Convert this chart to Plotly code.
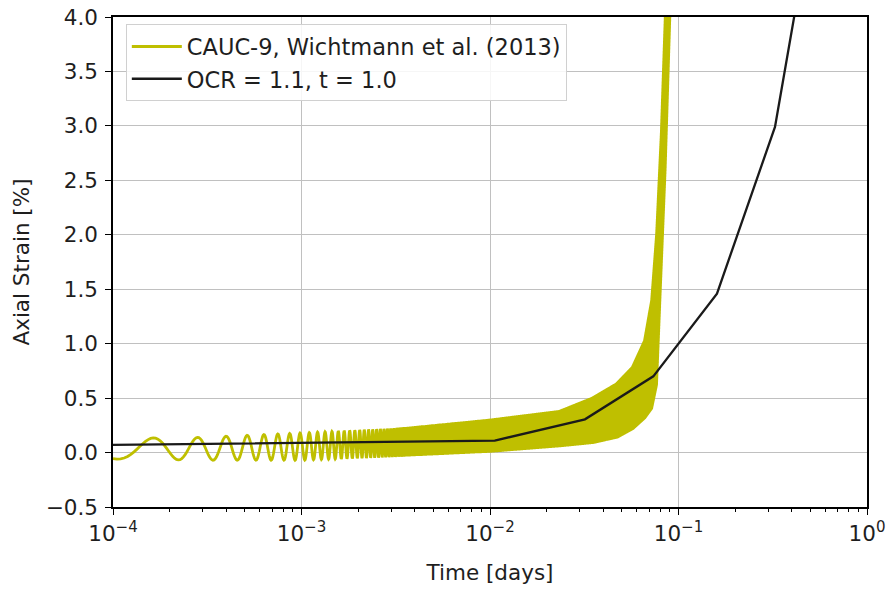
import numpy as np
import plotly.graph_objects as go

# ---- Data ----
# Cyclic test (yellow): envelope (time in days, strain in %)
cyc_env_time = [1.0e-4, 3.0e-4, 1.0e-3, 3.0e-3, 1.0e-2, 2.35e-2, 3.5e-2, 4.7e-2,
                5.7e-2, 6.6e-2, 7.2e-2, 7.65e-2, 8.1e-2, 8.5e-2, 9.0e-2]
cyc_env_upper = [0.13, 0.14, 0.18, 0.22, 0.31, 0.39, 0.51, 0.64,
                 0.79, 1.03, 1.40, 2.01, 2.93, 4.00, 5.30]
cyc_env_lower = [-0.06, -0.07, -0.07, -0.04, 0.00, 0.05, 0.08, 0.13,
                 0.21, 0.31, 0.40, 0.62, 1.70, 2.60, 4.00]
cyc_period_days = 1.17e-4     # cycle period read from peak spacing
cyc_first_peak = 1.64e-4      # time of first visible peak

# Model (black)
model_time = [1.0e-4, 1.06e-2, 3.19e-2, 7.35e-2, 0.160, 0.325, 0.50]
model_strain = [0.07, 0.11, 0.305, 0.70, 1.46, 2.99, 4.85]

x_ticks = [1e-4, 1e-3, 1e-2, 1e-1, 1e0]
x_ticklabels = ["10<sup>\u22124</sup>", "10<sup>\u22123</sup>", "10<sup>\u22122</sup>",
                "10<sup>\u22121</sup>", "10<sup>0</sup>"]
y_ticks = [-0.5, 0.0, 0.5, 1.0, 1.5, 2.0, 2.5, 3.0, 3.5, 4.0]

# ---- Build cyclic signal between the read envelopes ----
t = np.arange(cyc_env_time[0], cyc_env_time[-1], cyc_period_days / 24.0)
lt = np.log10(t)
lenv = np.log10(cyc_env_time)
up = np.interp(lt, lenv, cyc_env_upper)
lo = np.interp(lt, lenv, cyc_env_lower)
mean = (up + lo) / 2
amp = (up - lo) / 2
y_cyc = mean + amp * np.cos(2 * np.pi * (t - cyc_first_peak) / cyc_period_days)

minor_vals = [d * m for d in x_ticks[:-1] for m in range(2, 10)]

FONT = "DejaVu Sans"
TXT = "#1e1e1e"
fig = go.Figure()
fig.add_trace(go.Scatter(x=t, y=y_cyc, mode="lines",
                         line=dict(color="#bfbf00", width=2.8, simplify=False),
                         name="CAUC-9, Wichtmann et al. (2013)"))
fig.add_trace(go.Scatter(x=model_time, y=model_strain, mode="lines",
                         line=dict(color="#1a1a1a", width=2.3),
                         name="OCR = 1.1, t = 1.0"))

fig.update_layout(
    width=890, height=589,
    margin=dict(l=113, r=23, t=17, b=82),
    paper_bgcolor="white", plot_bgcolor="white",
    font=dict(family=FONT, size=21.5, color=TXT),
    showlegend=True,
    legend=dict(x=0.017, y=0.985, xanchor="left", yanchor="top",
                bgcolor="rgba(255,255,255,0.85)", bordercolor="#d0d0d0",
                borderwidth=1, font=dict(family=FONT, size=22.5, color=TXT),
                tracegroupgap=0, itemwidth=50),
    xaxis=dict(type="log", range=[-4, 0], tickvals=x_ticks, ticktext=x_ticklabels,
               automargin=False,
               showgrid=True, gridcolor="#c0c0c0", gridwidth=1.2,
               showline=True, linecolor="black", linewidth=1.5, mirror=True,
               ticks="outside", ticklen=6, tickwidth=1.3, tickcolor="black",
               minor=dict(ticks="outside", ticklen=3.5, tickwidth=1, tickcolor="black",
                          tickvals=minor_vals, showgrid=False),
               title=dict(text="Time [days]", standoff=20, font=dict(size=21.5)),
               zeroline=False),
    yaxis=dict(range=[-0.5, 4.0], tickvals=y_ticks, tickformat=".1f",
               automargin=False, ticklabelstandoff=3,
               showgrid=True, gridcolor="#c0c0c0", gridwidth=1.2,
               showline=True, linecolor="black", linewidth=1.5, mirror=True,
               ticks="outside", ticklen=6, tickwidth=1.3, tickcolor="black",
               title=dict(text="Axial Strain [%]", standoff=10, font=dict(size=21.5)),
               zeroline=False),
)

fig.write_html("out.html")
